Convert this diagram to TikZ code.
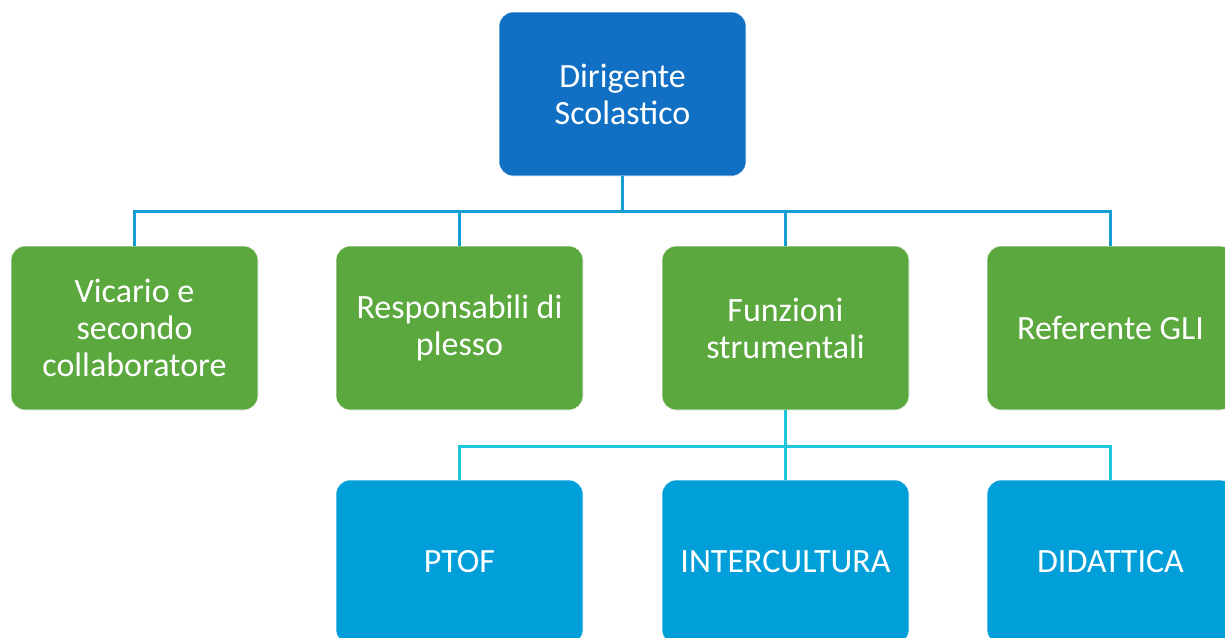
\documentclass[tikz,border=0pt]{standalone}
\usepackage{fontspec}
\setmainfont{Carlito}
\definecolor{topblue}{RGB}{17,112,196}
\definecolor{grn}{RGB}{90,168,62}
\definecolor{lblue}{RGB}{0,159,217}
\definecolor{lineA}{RGB}{22,158,212}
\definecolor{lineB}{RGB}{32,198,218}
\tikzset{
  box/.style={rectangle, rounded corners=14pt, minimum width=247pt, minimum height=164pt,
    draw=white, line width=0.6pt, text=white, align=center, inner sep=0pt,
    font=\fontsize{34}{37}\selectfont},
  topbox/.style={box, fill=topblue},
  greenbox/.style={box, fill=grn},
  bluebox/.style={box, fill=lblue},
  linkA/.style={draw=lineA, line width=2.6pt},
  linkB/.style={draw=lineB, line width=2.6pt}
}
\begin{document}
\begin{tikzpicture}[x=1pt,y=-1pt]
\useasboundingbox (0,0) rectangle (1225,637);
\clip (0,0) rectangle (1225,637);
\fill[white] (0,0) rectangle (1225,637);
\node[topbox] (top) at (622.5,94) {Dirigente\\Scolastico};
\node[greenbox] (g1) at (134.5,328) {Vicario e\\secondo\\collaboratore};
\node[greenbox] (g2) at (459.5,328) {Responsabili di\\plesso};
\node[greenbox] (g3) at (785.5,328) {Funzioni\\strumentali};
\node[greenbox] (g4) at (1110.5,328) {Referente GLI};
\node[bluebox] (b1) at (459.5,562) {PTOF};
\node[bluebox] (b2) at (785.5,562) {INTERCULTURA};
\node[bluebox] (b3) at (1110.5,562) {DIDATTICA};
\foreach \n in {g1,g2,g3,g4}
  \draw[linkA] (top.south) -- ++(0,35) -| (\n.north);
\foreach \n in {b1,b2,b3}
  \draw[linkB] (g3.south) -- ++(0,36) -| (\n.north);
\end{tikzpicture}
\end{document}
